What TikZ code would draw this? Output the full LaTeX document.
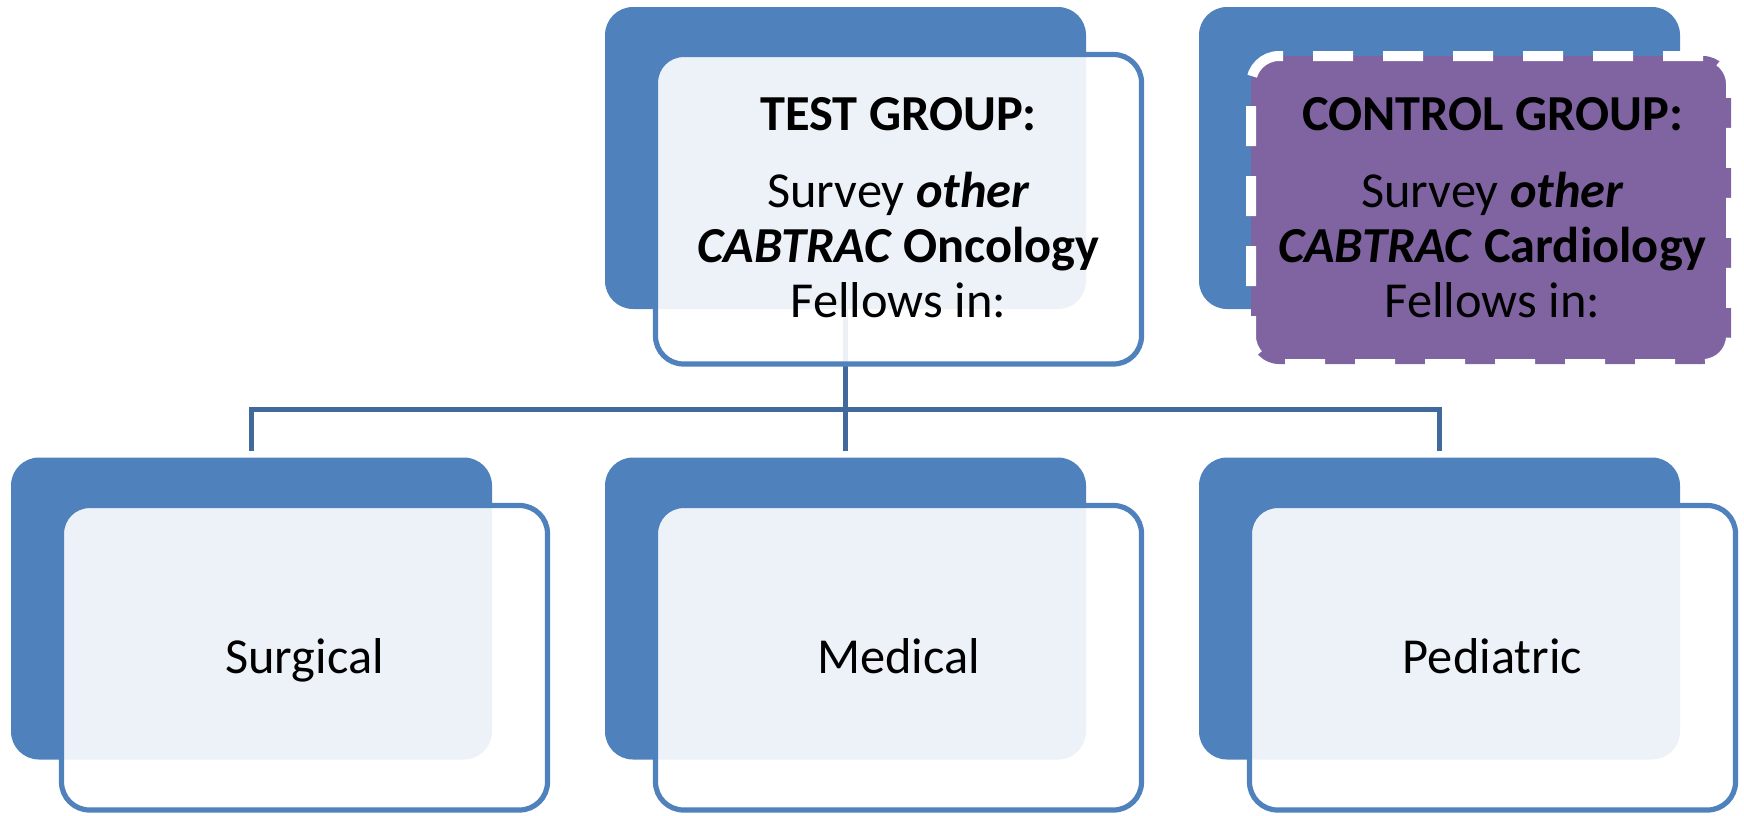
\documentclass[tikz,border=0pt]{standalone}
\usepackage{fontspec}
\setmainfont{Carlito}
\definecolor{accblue}{HTML}{4F81BD}
\definecolor{connblue}{HTML}{41699C}
\definecolor{accpurple}{HTML}{8064A2}
\begin{document}
\begin{tikzpicture}[x=0.5pt,y=-0.5pt,
  backbox/.style={rectangle, rounded corners=14pt, fill=accblue, draw=none,
    minimum width=240.5pt, minimum height=151pt, inner sep=0pt},
  frontbox/.style={rectangle, rounded corners=14pt, fill=white, fill opacity=0.9,
    draw=accblue, draw opacity=1, line width=2.6pt, minimum width=243pt, inner sep=0pt},
  ctrlbox/.style={rectangle, rounded corners=14pt, fill=accpurple,
    draw=white, line width=5pt, dash pattern=on 20pt off 15pt,
    minimum width=240pt, minimum height=154pt, inner sep=0pt},
  conn/.style={draw=connblue, line width=2.5pt},
  txt/.style={font=\fontsize{25.2pt}{28pt}\selectfont, inner sep=0pt, anchor=base, text=black}]
\useasboundingbox (0,0) rectangle (1744,815);

% back boxes
\node[backbox] (tb) at (845.5,158) {};
\node[backbox] (cb) at (1439.5,158) {};
\node[backbox] (sb) at (251.5,608.5) {};
\node[backbox] (mb) at (845.5,608.5) {};
\node[backbox] (pb) at (1439.5,608.5) {};

% connectors
\coordinate (junc) at (845.5,409.5);
\draw[conn] (tb.south) -- ([yshift=3pt]mb.north);
\draw[conn] ([yshift=3pt]sb.north) |- (junc) -| ([yshift=3pt]pb.north);

% front boxes
\node[frontbox, minimum height=154.75pt] (tf) at (898.5,209.25) {};
\node[ctrlbox] (cf) at (1491,210) {};
\node[frontbox, minimum height=152.25pt] (sf) at (304.5,657.75) {};
\node[frontbox, minimum height=152.25pt] (mf) at (898.5,657.75) {};
\node[frontbox, minimum height=152.25pt] (pf) at (1492.5,657.75) {};

% texts
\node[txt] (t1) at (898.5,130) {\textbf{TEST GROUP:}};
\node[txt] (t2) at (898.5,207) {Survey \textbf{\textit{other}}};
\node[txt] (t3) at (898.5,262) {\textbf{\textit{CABTRAC} Oncology}};
\node[txt] (t4) at (898.5,317) {Fellows in:};

\node[txt] (c1) at (1492.5,130) {\textbf{CONTROL GROUP:}};
\node[txt] (c2) at (1492.5,207) {Survey \textbf{\textit{other}}};
\node[txt] (c3) at (1492.5,262) {\textbf{\textit{CABTRAC} Cardiology}};
\node[txt] (c4) at (1492.5,317) {Fellows in:};

\node[txt] (s1) at (304.5,673) {Surgical};
\node[txt] (m1) at (898.5,673) {Medical};
\node[txt] (p1) at (1492.5,673) {Pediatric};
\end{tikzpicture}
\end{document}
